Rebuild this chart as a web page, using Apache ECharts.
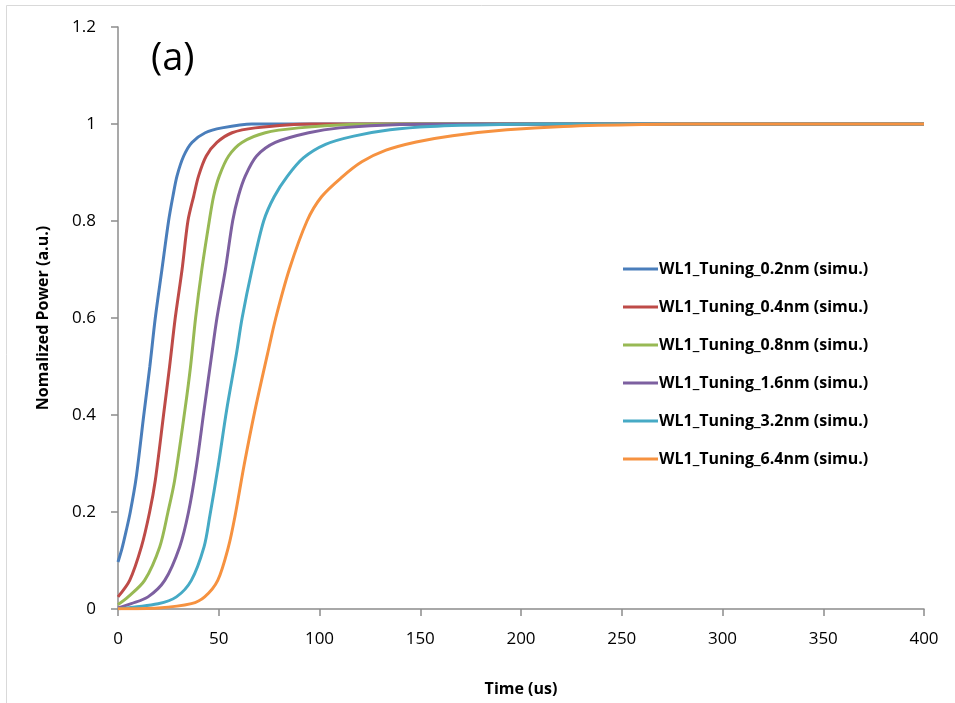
<!DOCTYPE html>
<html>
<head>
<meta charset="utf-8">
<script src="https://cdn.jsdelivr.net/npm/echarts@6/dist/echarts.min.js"></script>
<style>html,body{margin:0;padding:0;background:#fff;}#c{width:955px;height:703px;}</style>
</head>
<body>
<div id="c"></div>
<script>
const seriesNames = [
  'WL1_Tuning_0.2nm (simu.)',
  'WL1_Tuning_0.4nm (simu.)',
  'WL1_Tuning_0.8nm (simu.)',
  'WL1_Tuning_1.6nm (simu.)',
  'WL1_Tuning_3.2nm (simu.)',
  'WL1_Tuning_6.4nm (simu.)'
];
const xTicks = [0, 50, 100, 150, 200, 250, 300, 350, 400];
const yTicks = [0, 0.2, 0.4, 0.6, 0.8, 1, 1.2];

const wl_0_2 = [[0,0.097],[2,0.125],[4,0.16],[6.1,0.2],[9,0.27],[12.8,0.4],[15.8,0.5],[18.5,0.6],[21.8,0.7],[25.1,0.8],[27.3,0.852],[29.3,0.893],[32.6,0.934],[36.7,0.962],[43.3,0.982],[51.6,0.992],[66.5,1],[400,1]];
const wl_0_4 = [[0,0.025],[5.8,0.059],[11.6,0.128],[15.7,0.2],[18.5,0.265],[22.6,0.4],[25.6,0.5],[28.4,0.6],[31.8,0.7],[34.7,0.8],[37.6,0.852],[40,0.893],[43.8,0.934],[49.1,0.962],[56.6,0.982],[68.1,0.992],[96,1],[400,1]];
const wl_0_8 = [[0,0.009],[5,0.025],[13.2,0.059],[20.7,0.128],[24.8,0.2],[28.1,0.265],[33.2,0.41],[36,0.5],[38.5,0.6],[41.6,0.7],[45.3,0.8],[47.5,0.852],[50.3,0.893],[54.9,0.934],[61.5,0.962],[73.1,0.982],[89.7,0.992],[115,0.999],[140,1],[400,1]];
const wl_1_6 = [[0,0.002],[6.6,0.011],[14.9,0.025],[23.2,0.059],[30.6,0.128],[35,0.2],[39,0.297],[42.7,0.41],[46.5,0.524],[49.1,0.6],[53.3,0.7],[56.9,0.8],[59.8,0.852],[63.2,0.893],[68.8,0.934],[78.1,0.962],[94.6,0.982],[110,0.992],[140,0.999],[180,1],[400,1]];
const wl_3_2 = [[0,0.0005],[19.9,0.011],[29,0.025],[36.4,0.059],[42.7,0.128],[45.5,0.19],[49.8,0.297],[53.9,0.41],[58.7,0.524],[61.6,0.6],[66.5,0.7],[72.3,0.8],[77.5,0.85],[84,0.892],[92,0.93],[103,0.958],[117,0.975],[135,0.988],[155,0.995],[190,0.999],[230,1],[400,1]];
const wl_6_4 = [[0,0.0003],[20,0.002],[36.4,0.011],[43,0.025],[49.5,0.059],[54.8,0.128],[58,0.19],[62.6,0.297],[68,0.41],[74.1,0.524],[78.3,0.6],[85,0.7],[93.8,0.8],[101,0.85],[111,0.89],[121,0.922],[133,0.946],[148,0.963],[166,0.976],[193,0.988],[221,0.995],[260,0.999],[300,1],[400,1]];

const allData = [wl_0_2, wl_0_4, wl_0_8, wl_1_6, wl_3_2, wl_6_4];
const colors = ['#4A7EBB', '#BE4B48', '#98B954', '#7D60A0', '#46AAC5', '#F69240'];

const chart = echarts.init(document.getElementById('c'));
const axisGray = '#8c8c8c';
const fontFam = "'Open Sans', 'Noto Sans', sans-serif";

chart.setOption({
  backgroundColor: '#fff',
  animation: false,
  color: colors,
  graphic: [
    { type: 'rect', shape: { x: 6.5, y: 5.5, width: 1000, height: 1000 }, style: { fill: 'none', stroke: '#d9d9d9', lineWidth: 1 }, z: -10 },
    { type: 'text', left: 151, top: 40, style: { text: '(a)', font: "38px 'Open Sans', sans-serif", fill: '#000' } }
  ],
  grid: { left: 118, right: 31, top: 27, bottom: 94, containLabel: false },
  legend: {
    orient: 'vertical',
    left: 618,
    top: 256,
    itemWidth: 35,
    itemHeight: 14,
    itemGap: 22,
    icon: 'path://M0,6 L35,6 L35,9 L0,9 Z',
    data: seriesNames,
    textStyle: { fontFamily: fontFam, fontWeight: 'bold', fontSize: 16, color: '#000', padding: [0, 0, 0, -4], height: 14, lineHeight: 14 }
  },
  xAxis: {
    type: 'value',
    min: 0, max: 400, interval: 50,
    name: 'Time (us)',
    nameLocation: 'middle',
    nameGap: 72,
    nameTextStyle: { fontFamily: fontFam, fontWeight: 'bold', fontSize: 16, color: '#000' },
    axisLine: { show: true, lineStyle: { color: axisGray, width: 1.5 } },
    axisTick: { show: true, inside: false, length: 7, lineStyle: { color: axisGray, width: 1.5 } },
    axisLabel: { fontFamily: fontFam, fontSize: 17, color: '#000', margin: 22,
      formatter: v => xTicks.includes(v) ? String(v) : '' },
    splitLine: { show: false }
  },
  yAxis: {
    type: 'value',
    min: 0, max: 1.2, interval: 0.2,
    name: 'Nomalized Power (a.u.)',
    nameLocation: 'middle',
    nameGap: 67,
    nameRotate: 90,
    nameTextStyle: { fontFamily: fontFam, fontWeight: 'bold', fontSize: 16, color: '#000' },
    axisLine: { show: true, lineStyle: { color: axisGray, width: 1.5 } },
    axisTick: { show: true, inside: false, length: 7, lineStyle: { color: axisGray, width: 1.5 } },
    axisLabel: { fontFamily: fontFam, fontSize: 17, color: '#000', margin: 22,
      formatter: v => { const t = yTicks.find(y => Math.abs(y - v) < 1e-9); return t === undefined ? '' : String(t); } },
    splitLine: { show: false }
  },
  series: seriesNames.map((n, i) => ({
    name: n,
    type: 'line',
    data: allData[i],
    showSymbol: false,
    smooth: 0.3,
    lineStyle: { width: 3, color: colors[i] },
    itemStyle: { color: colors[i] }
  }))
});
</script>
</body>
</html>
